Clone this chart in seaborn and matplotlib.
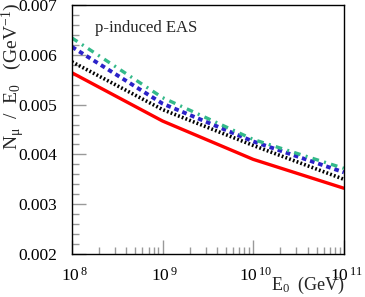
import numpy as np
import pandas as pd
import matplotlib
matplotlib.use("Agg")
import matplotlib.pyplot as plt
import matplotlib.transforms as mtransforms
import seaborn as sns
from matplotlib.ticker import FixedLocator, MultipleLocator, FixedFormatter, NullFormatter

# Data
energy = [1e8, 1e9, 1e10, 1e11]
red_solid = [0.00564, 0.00467, 0.00390, 0.00332]
black_dotted = [0.00586, 0.00490, 0.00418, 0.00350]
blue_dashed = [0.00616, 0.00502, 0.00426, 0.00364]
green_dashdot = [0.00634, 0.00514, 0.00430, 0.00372]
x_ticks = [1e8, 1e9, 1e10, 1e11]
x_tick_labels = [r"$10^{\,8}$", r"$10^{\,9}$", r"$10^{\,10}$", r"$10^{\,11}$"]
y_ticks = [0.002, 0.003, 0.004, 0.005, 0.006, 0.007]

sns.set_theme(style="ticks")
plt.rcParams['font.family'] = ['Liberation Serif', 'DejaVu Serif']
plt.rcParams['mathtext.fontset'] = 'custom'
plt.rcParams['mathtext.rm'] = 'Liberation Serif'
plt.rcParams['mathtext.it'] = 'Liberation Serif'

fig = plt.figure(figsize=(3.65, 2.97), dpi=100)
ax = fig.add_axes([0.197, 0.145, 0.745, 0.838])

series = [
    (red_solid, "#ff0000", "-", 2.4),
    (black_dotted, "#000000", (0, (0.5, 0.6)), 2.6),
    (blue_dashed, "#2b22c8", (0, (1.2, 1.0)), 2.8),
    (green_dashdot, "#33b98a", (0, (2.0, 1.6, 0.6, 1.6)), 2.4),
]
for vals, col, ls, lw in series:
    df = pd.DataFrame({"E0": energy, "N": vals})
    sns.lineplot(data=df, x="E0", y="N", ax=ax, color=col, linestyle=ls, linewidth=lw)

ax.set_xlabel("")
ax.set_ylabel("")
ax.set_xscale("log")
ax.set_xlim(1e8, 1e11)
ax.set_ylim(0.002, 0.007)

ax.xaxis.set_major_locator(FixedLocator(x_ticks))
ax.xaxis.set_major_formatter(FixedFormatter(x_tick_labels))
ax.xaxis.set_minor_locator(matplotlib.ticker.LogLocator(base=10, subs=np.arange(2, 10)))
ax.xaxis.set_minor_formatter(NullFormatter())
ax.yaxis.set_major_locator(FixedLocator(y_ticks))
ax.yaxis.set_minor_locator(MultipleLocator(0.0002))
ax.set_yticklabels([f"{v:.3f}" for v in y_ticks])

ax.tick_params(axis="both", which="both", direction="in", colors="#999999",
               labelcolor="black", labelsize=12.5, top=False, right=False)
ax.tick_params(axis="both", which="major", length=10, width=1)
ax.tick_params(axis="both", which="minor", length=5, width=1)
ax.tick_params(axis="x", pad=9)
ax.tick_params(axis="y", pad=10.5)

# shift x tick labels a little right so the "10" sits on the tick
offset = mtransforms.ScaledTranslation(2 / 100, 0, fig.dpi_scale_trans)
for lab in ax.get_xticklabels():
    lab.set_transform(lab.get_transform() + offset)

for sp in ax.spines.values():
    sp.set_visible(True)
    sp.set_color("black")
    sp.set_linewidth(1.0)

fig.text(345 / 365, 1 - 285 / 297, r"E$_{0}$  (GeV)", fontsize=13,
         ha="right", va="center")
fig.text(13 / 365, 1 - 3 / 297, r"N$_{\mu}$  /  E$_{0}$   (GeV$^{-1}$)", fontsize=14,
         rotation=90, ha="center", va="top")
ax.text(0.084, 0.908, "p-induced EAS", transform=ax.transAxes, fontsize=12,
        ha="left", va="center")

fig.savefig("out.png", dpi=100)
